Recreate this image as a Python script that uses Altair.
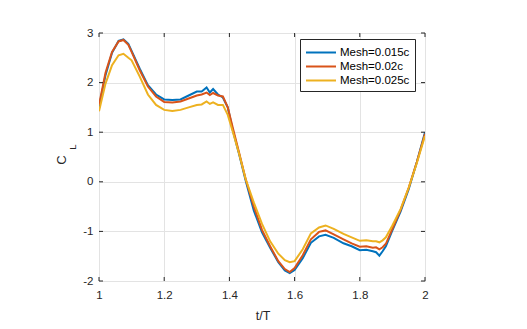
import altair as alt
import pandas as pd

t = [1.00, 1.02, 1.04, 1.06, 1.075, 1.09, 1.10, 1.125, 1.15, 1.175, 1.20, 1.225, 1.25, 1.275,
     1.30, 1.315, 1.33, 1.34, 1.35, 1.365, 1.38, 1.395, 1.41, 1.43, 1.45, 1.475, 1.50, 1.525,
     1.55, 1.57, 1.585, 1.60, 1.625, 1.65, 1.675, 1.695, 1.72, 1.75, 1.775, 1.80, 1.82, 1.84,
     1.85, 1.86, 1.87, 1.88, 1.90, 1.925, 1.95, 1.975, 2.00]

mesh_015 = [1.50, 2.15, 2.60, 2.84, 2.87, 2.78, 2.64, 2.28, 1.95, 1.76, 1.66, 1.65, 1.66, 1.74,
            1.82, 1.82, 1.90, 1.80, 1.87, 1.76, 1.70, 1.50, 1.05, 0.55, 0.02, -0.58, -1.02, -1.33,
            -1.62, -1.79, -1.84, -1.78, -1.54, -1.23, -1.10, -1.07, -1.13, -1.24, -1.30, -1.38, -1.37, -1.40,
            -1.42, -1.49, -1.40, -1.30, -0.98, -0.60, -0.15, 0.40, 1.00]

mesh_02 = [1.55, 2.20, 2.62, 2.83, 2.86, 2.76, 2.62, 2.25, 1.92, 1.72, 1.61, 1.60, 1.62, 1.68,
           1.74, 1.76, 1.80, 1.75, 1.79, 1.74, 1.72, 1.50, 1.10, 0.58, 0.05, -0.50, -0.97, -1.30,
           -1.60, -1.76, -1.82, -1.74, -1.48, -1.16, -1.01, -0.98, -1.06, -1.16, -1.24, -1.31, -1.30, -1.33,
           -1.32, -1.36, -1.32, -1.25, -0.95, -0.57, -0.12, 0.40, 0.97]

mesh_025 = [1.42, 1.98, 2.35, 2.55, 2.58, 2.50, 2.45, 2.12, 1.76, 1.55, 1.45, 1.43, 1.45, 1.50,
            1.55, 1.56, 1.62, 1.57, 1.60, 1.55, 1.55, 1.35, 1.02, 0.56, 0.05, -0.42, -0.85, -1.20,
            -1.45, -1.58, -1.62, -1.60, -1.36, -1.04, -0.92, -0.88, -0.95, -1.05, -1.12, -1.19, -1.18, -1.20,
            -1.20, -1.22, -1.18, -1.12, -0.88, -0.55, -0.12, 0.38, 0.93]

series = ["Mesh=0.015c", "Mesh=0.02c", "Mesh=0.025c"]
colors = ["#0072BD", "#D95319", "#EDB120"]
x_ticks = [1.0, 1.2, 1.4, 1.6, 1.8, 2.0]
y_ticks = [-2, -1, 0, 1, 2, 3]

rows = []
for name, vals in zip(series, [mesh_015, mesh_02, mesh_025]):
    for i, (tt, v) in enumerate(zip(t, vals)):
        rows.append({"t": tt, "CL": v, "Mesh": name, "order": i})
df = pd.DataFrame(rows)

W, H = 326, 248
FONT = "Liberation Sans"
INK = "#262626"

xscale = alt.Scale(domain=[1, 2], nice=False, zero=False)
yscale = alt.Scale(domain=[-2, 3], nice=False, zero=False)

lines = alt.Chart(df).mark_line(strokeWidth=2, clip=True).encode(
    x=alt.X("t:Q", scale=xscale,
            axis=alt.Axis(values=x_ticks, labelExpr="toString(datum.value)", title=None, tickSize=0,
                          labelPadding=8, labelFontSize=11.5, labelFont=FONT, labelColor=INK,
                          domain=False, gridColor="#e3e3e3", labelFlush=False)),
    y=alt.Y("CL:Q", scale=yscale,
            axis=alt.Axis(values=y_ticks, labelExpr="toString(datum.value)", title=None, tickSize=0,
                          labelPadding=6, labelFontSize=11.5, labelFont=FONT, labelColor=INK,
                          domain=False, gridColor="#e3e3e3", labelFlush=False)),
    color=alt.Color("Mesh:N", scale=alt.Scale(domain=series, range=colors),
                    legend=alt.Legend(title=None, orient="none", legendX=201, legendY=6,
                                      symbolType="M-1,0H3", symbolSize=225, symbolStrokeWidth=2,
                                      labelFont=FONT, labelFontSize=11.5, labelColor="black",
                                      labelOffset=18, rowPadding=-1.5, padding=5,
                                      strokeColor=INK, fillColor="white")),
    order="order:Q",
)

xt = pd.DataFrame({"v": x_ticks})
yt = pd.DataFrame({"v": y_ticks})
tick_x_bottom = alt.Chart(xt).mark_rule(color=INK, strokeWidth=1).encode(
    x=alt.X("v:Q", scale=xscale), y=alt.value(H), y2=alt.value(H - 4))
tick_x_top = alt.Chart(xt).mark_rule(color=INK, strokeWidth=1).encode(
    x=alt.X("v:Q", scale=xscale), y=alt.value(0), y2=alt.value(4))
tick_y_left = alt.Chart(yt).mark_rule(color=INK, strokeWidth=1).encode(
    y=alt.Y("v:Q", scale=yscale), x=alt.value(0), x2=alt.value(4))
tick_y_right = alt.Chart(yt).mark_rule(color=INK, strokeWidth=1).encode(
    y=alt.Y("v:Q", scale=yscale), x=alt.value(W), x2=alt.value(W - 4))

c_title = alt.Chart(pd.DataFrame({"s": ["C"]})).mark_text(
    angle=270, fontSize=13, font=FONT, color=INK).encode(
    text="s:N", x=alt.value(-37), y=alt.value(127))
l_title = alt.Chart(pd.DataFrame({"s": ["L"]})).mark_text(
    angle=270, fontSize=9.5, font=FONT, color=INK).encode(
    text="s:N", x=alt.value(-26), y=alt.value(114))
x_title = alt.Chart(pd.DataFrame({"s": ["t/T"]})).mark_text(
    fontSize=12.5, font=FONT, color=INK).encode(
    text="s:N", x=alt.value(164), y=alt.value(283))

chart = alt.layer(
    lines, tick_x_bottom, tick_x_top, tick_y_left, tick_y_right, c_title, l_title, x_title
).properties(
    width=W, height=H,
    autosize=alt.AutoSizeParams(type="none"),
    padding={"left": 91, "top": 25, "right": 94, "bottom": 48},
).configure_view(
    stroke=INK, strokeWidth=1
).configure(background="white")

chart.save("out.html", embed_options={"renderer": "svg", "actions": False})
